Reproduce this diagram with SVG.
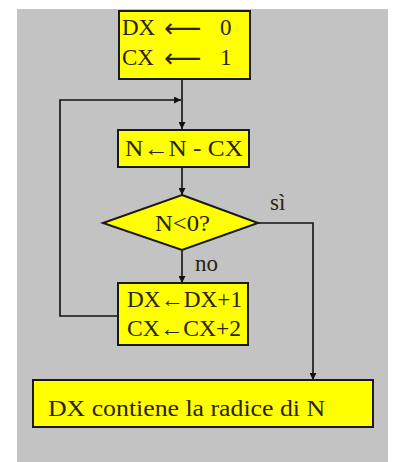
<svg xmlns="http://www.w3.org/2000/svg" width="395" height="462" viewBox="0 0 395 462">
<style>
.box{fill:#ffff00;stroke:#1a1a1a;stroke-width:2}
text{font-family:"Liberation Serif",serif;font-size:23px;fill:#2a2410}
.ar{font-family:"DejaVu Sans",sans-serif;font-size:26px}
.c{fill:none;stroke:#111;stroke-width:1.6}
</style>
<defs>
<marker id="ah" viewBox="0 0 10 10" refX="10" refY="5" markerWidth="7" markerHeight="7" orient="auto" markerUnits="userSpaceOnUse">
<path d="M0,0 L10,5 L0,10 z" fill="#111"/>
</marker>
</defs>
<rect width="395" height="462" fill="#ffffff"/>
<rect x="17" y="9" width="371" height="453" fill="#c3c3c3"/>
<g id="connectors">
<line class="c" x1="182" y1="80" x2="182" y2="129" marker-end="url(#ah)"/>
<polyline class="c" points="118,316 60,316 60,100 181,100" marker-end="url(#ah)"/>
<line class="c" x1="182" y1="167" x2="182" y2="195" marker-end="url(#ah)"/>
<line class="c" x1="182" y1="250" x2="182" y2="283" marker-end="url(#ah)"/>
<polyline class="c" points="258,223 313,223 313,380" marker-end="url(#ah)"/>
<text x="270" y="210">sì</text>
<text x="195" y="271">no</text>
</g>
<g id="init">
<rect class="box" x="119" y="11" width="131" height="68"/>
<text x="122" y="35">DX</text>
<text class="ar" x="164" y="37">⟵</text>
<text x="220" y="35">0</text>
<text x="122" y="65">CX</text>
<text class="ar" x="164" y="67">⟵</text>
<text x="220" y="65">1</text>
</g>
<g id="sub">
<rect class="box" x="118" y="130" width="131" height="37"/>
<text x="125" y="156" textLength="118" lengthAdjust="spacingAndGlyphs">N←N - CX</text>
</g>
<g id="test">
<polygon class="box" points="182,195 258,223 182,250 103,223"/>
<text x="155" y="231" textLength="55" lengthAdjust="spacingAndGlyphs">N&lt;0?</text>
</g>
<g id="incr">
<rect class="box" x="118" y="283" width="130" height="62"/>
<text x="127" y="307" textLength="115" lengthAdjust="spacingAndGlyphs">DX←DX+1</text>
<text x="127" y="336" textLength="114" lengthAdjust="spacingAndGlyphs">CX←CX+2</text>
</g>
<g id="result">
<rect class="box" x="33" y="380" width="340" height="47"/>
<text x="48" y="416" textLength="277" lengthAdjust="spacingAndGlyphs">DX contiene la radice di N</text>
</g>
</svg>
